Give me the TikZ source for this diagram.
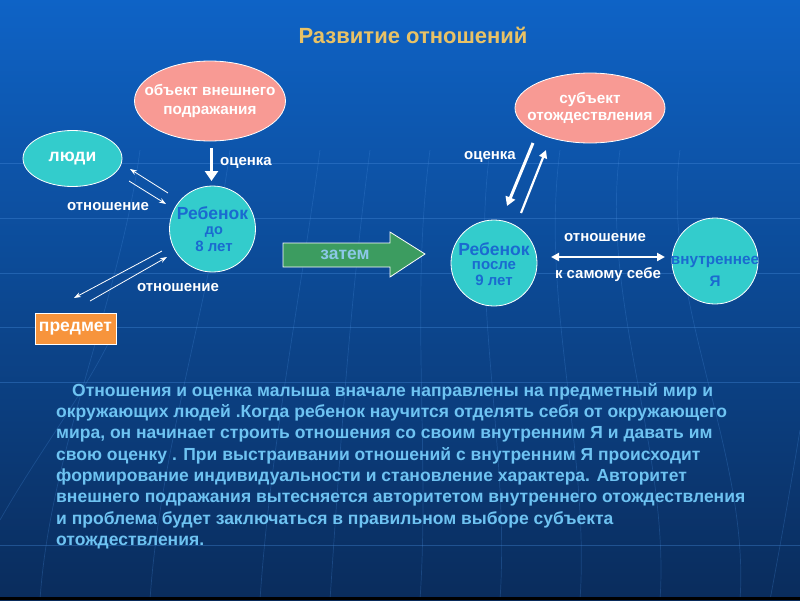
\documentclass[tikz,border=0pt]{standalone}
\usepackage{fontspec}
\setmainfont{Liberation Sans}
\usetikzlibrary{arrows.meta,shapes.geometric}
\definecolor{bgtop}{HTML}{0E63C6}
\definecolor{bgmid}{HTML}{0B4A9C}
\definecolor{bgbot}{HTML}{0A2C5C}
\definecolor{salmon}{HTML}{F89A94}
\definecolor{tealc}{HTML}{33CCCC}
\definecolor{kidblue}{HTML}{1A6AD0}
\definecolor{gold}{HTML}{E8C266}
\definecolor{orangebox}{HTML}{F7943C}
\definecolor{greenarrow}{HTML}{3C9C60}
\definecolor{paratext}{HTML}{6EC3F2}
\definecolor{zatemc}{HTML}{8CC8E8}
\definecolor{gridc}{HTML}{4A90E0}
\tikzset{
  fs/.style={font=\bfseries\fontsize{#1}{#1}\selectfont},
  pinkell/.style={ellipse, draw=white, line width=0.8pt, fill=salmon, inner sep=0pt},
  pinktxt/.style={text=white, align=center, inner sep=0pt, fs=15.3},
  tealell/.style={ellipse, draw=white, line width=0.8pt, fill=tealc, text=white, inner sep=0pt, fs=17.5},
  kid/.style={circle, draw=white, line width=0.8pt, fill=tealc, text=kidblue, align=center, inner sep=0pt, minimum size=86pt},
  kidtxt/.style={text=kidblue, inner sep=0pt, fs=#1},
  lbl/.style={text=white, inner sep=0pt, fs=15},
  thinarr/.style={white, line width=0.8pt, -{Stealth[length=7pt,width=5pt]}},
  thickarr/.style={white, line width=3.5pt, -{Triangle[length=10pt,width=13pt]}},
  midarr/.style={white, line width=2.2pt, -{Triangle[length=8pt,width=8pt]}},
  bgline/.style={gridc, line width=0.7pt, opacity=0.35},
}
\begin{document}
\begin{tikzpicture}[x=1pt,y=-1pt]
\shade[top color=bgtop, middle color=bgmid, bottom color=bgbot] (0,0) rectangle (800,600);
\useasboundingbox (0,0) rectangle (800,600);
% background decorative lines
\foreach \yy in {163,218,273,327,382,545} \draw[bgline] (0,\yy) -- (800,\yy);
\foreach \xa/\xb in {40/120,150/210,260/300,330/350,420/410,500/470,580/540,660/600,740/660}
  \draw[bgline, opacity=0.25] (\xa,600) .. controls (\xa+10,450) and (\xb,300) .. (\xb+20,150);
\draw[bgline, opacity=0.25] (0,520) .. controls (40,450) and (80,400) .. (110,340);
\draw[bgline, opacity=0.25] (770,600) .. controls (785,520) and (795,460) .. (800,430);
\fill[black] (0,597) rectangle (800,600);

% title
\node[text=gold, fs=22] (title) at (413,35) {Развитие отношений};

% left part
\node[pinkell, minimum width=151pt, minimum height=80pt] (obj) at (210,101) {};
\node[pinktxt] (objtxt) at (210,101) {объект внешнего\\[3pt]подражания};
\node[tealell, minimum width=99pt, minimum height=56pt] (ludi) at (72.5,158.5) {люди};
\node[kid] (kid1) at (212.5,229) {};
\node[kidtxt=17.5] (k1a) at (212.5,213.5) {Ребенок};
\node[kidtxt=14.5] (k1b) at (214,232) {до};
\node[kidtxt=15] (k1c) at (214,246) {8 лет};
\node[draw=white, line width=0.8pt, fill=orangebox, text=white, fs=17.5, minimum width=81pt, minimum height=31pt, inner sep=0pt] (pred) at (75.5,328.5) {предмет};

\coordinate (o1) at (211.5,148);
\coordinate (o2) at (211.5,181);
\draw[thickarr] (o1) -- (o2);
\node[lbl] (ocenka1) at (246,163) {оценка};

\coordinate (a1s) at (168,193);
\coordinate (a1e) at (130,169);
\coordinate (a2s) at (129,181);
\coordinate (a2e) at (166,204);
\draw[thinarr] (a1s) -- (a1e);
\draw[thinarr] (a2s) -- (a2e);
\node[lbl] (otn1) at (108,207) {отношение};

\coordinate (b1s) at (162,251);
\coordinate (b1e) at (74,298);
\coordinate (b2s) at (90,301);
\coordinate (b2e) at (167,257);
\draw[thinarr] (b1s) -- (b1e);
\draw[thinarr] (b2s) -- (b2e);
\node[lbl] (otn2) at (178,288) {отношение};

% arrow "затем"
\draw[white, line width=0.8pt, fill=greenarrow] (283,243) -- (390,243) -- (390,232) -- (425,254) -- (390,277) -- (390,267) -- (283,267) -- cycle;
\node[text=zatemc, fs=17.5, inner sep=0pt] (zatem) at (345,255) {затем};

% right part
\node[pinkell, minimum width=150pt, minimum height=70pt] (subj) at (590,108) {};
\node[pinktxt] (subjtxt) at (590,108) {субъект\\[2pt]отождествления};
\node[kid] (kid2) at (494,263) {};
\node[kidtxt=17.5] (k2a) at (494,249) {Ребенок};
\node[kidtxt=15] (k2b) at (494,266) {после};
\node[kidtxt=15] (k2c) at (494,280) {9 лет};
\node[kid] (ya) at (715,261) {};
\node[kidtxt=15.3] (ya1) at (715,262) {внутреннее};
\node[kidtxt=15.3] (ya2) at (715,281) {Я};

\coordinate (c1s) at (533,143);
\coordinate (c1e) at (507,206);
\coordinate (c2s) at (521,213);
\coordinate (c2e) at (546,150);
\draw[white, line width=3pt, -{Triangle[length=9pt,width=10pt]}] (c1s) -- (c1e);
\draw[midarr] (c2s) -- (c2e);
\node[lbl] (ocenka2) at (490,157) {оценка};

\coordinate (d1) at (551,257);
\coordinate (d2) at (665,257);
\draw[white, line width=2.2pt, {Triangle[length=8pt,width=8pt]}-{Triangle[length=8pt,width=8pt]}] (d1) -- (d2);
\node[lbl] (otn3) at (605,238) {отношение};
\node[lbl] (sebe) at (608,275) {к самому себе};

% paragraph
\node[anchor=north west, align=left, text=paratext, inner sep=0pt, font=\bfseries\fontsize{17.5}{21.3}\selectfont] (para) at (56,383) {\hspace*{16pt}Отношения и оценка малыша вначале направлены на предметный мир и\\
окружающих людей .Когда ребенок научится отделять себя от окружающего\\
мира, он начинает строить отношения со своим внутренним Я и давать им\\
свою оценку . При выстраивании отношений с внутренним Я происходит\\
формирование индивидуальности и становление характера. Авторитет\\
внешнего подражания вытесняется авторитетом внутреннего отождествления\\
и проблема будет заключаться в правильном выборе субъекта\\
отождествления.};
\end{tikzpicture}
\end{document}
